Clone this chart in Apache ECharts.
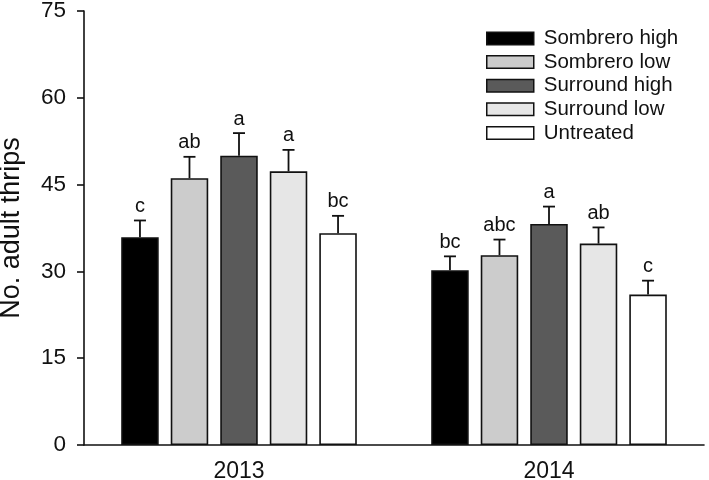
<!DOCTYPE html>
<html>
<head>
<meta charset="utf-8">
<script src="https://cdn.jsdelivr.net/npm/echarts@6/dist/echarts.min.js"></script>
<style>
  html, body { margin: 0; padding: 0; background: #fff; }
  #chart { width: 709px; height: 480px; }
</style>
</head>
<body>
<div id="chart"></div>
<script>
// 数据
const years = ['2013', '2014'];
const treatments = ['Sombrero high', 'Sombrero low', 'Surround high', 'Surround low', 'Untreated'];
const fills = ['#000000', '#cccccc', '#5a5a5a', '#e6e6e6', '#ffffff'];

const sombreroHigh = [35.9, 30.2];
const sombreroLow = [46.1, 32.8];
const surroundHigh = [50.0, 38.2];
const surroundLow = [47.3, 34.8];
const untreated = [36.6, 26.0];

const errSombreroHigh = [2.9, 2.4];
const errSombreroLow = [3.7, 2.7];
const errSurroundHigh = [3.9, 3.0];
const errSurroundLow = [3.7, 2.8];
const errUntreated = [3.0, 2.4];

const lettersSombreroHigh = ['c', 'bc'];
const lettersSombreroLow = ['ab', 'abc'];
const lettersSurroundHigh = ['a', 'a'];
const lettersSurroundLow = ['a', 'ab'];
const lettersUntreated = ['bc', 'c'];

const yTicks = [0, 15, 30, 45, 60, 75];

const means = [sombreroHigh, sombreroLow, surroundHigh, surroundLow, untreated];
const errs = [errSombreroHigh, errSombreroLow, errSurroundHigh, errSurroundLow, errUntreated];
const letters = [lettersSombreroHigh, lettersSombreroLow, lettersSurroundHigh, lettersSurroundLow, lettersUntreated];

const FONT = 'Liberation Sans, Arial, sans-serif';
const CAT_GAP = 0.24;
const BAR_GAP = 0.32;

// 误差线数据: [类别, 处理序号, 均值, 误差, 字母]
const errData = [];
treatments.forEach(function(t, s) {
    years.forEach(function(y, c) {
        errData.push([c, s, means[s][c], errs[s][c], letters[s][c]]);
    });
});

const chart = echarts.init(document.getElementById('chart'));

const barSeries = treatments.map(function(name, s) {
    return {
        name: name,
        type: 'bar',
        data: means[s],
        barCategoryGap: (CAT_GAP * 100) + '%',
        barGap: (BAR_GAP * 100) + '%',
        itemStyle: { color: fills[s], borderColor: '#111', borderWidth: 1.6 },
        emphasis: { disabled: true }
    };
});

function renderErr(params, api) {
    const c = api.value(0);
    const s = api.value(1);
    const m = api.value(2);
    const e = api.value(3);
    const txt = errData[params.dataIndex][4];
    const band = api.size([1, 0])[0];
    const n = treatments.length;
    const bw = band * (1 - CAT_GAP) / (n + (n - 1) * BAR_GAP);
    const total = bw * n + bw * BAR_GAP * (n - 1);
    const center = api.coord([c, 0])[0];
    const x = center - total / 2 + s * bw * (1 + BAR_GAP) + bw / 2;
    const yTop = api.coord([c, m + e])[1];
    const yBase = api.coord([c, m])[1];
    const st = { stroke: '#111', lineWidth: 1.8 };
    return {
        type: 'group',
        children: [
            { type: 'line', shape: { x1: x, y1: yBase, x2: x, y2: yTop }, style: st },
            { type: 'line', shape: { x1: x - 6, y1: yTop, x2: x + 6, y2: yTop }, style: st },
            {
                type: 'text',
                style: {
                    x: x, y: yTop - 4, text: txt,
                    fill: '#111', font: '20px ' + FONT,
                    textAlign: 'center', textVerticalAlign: 'bottom'
                }
            }
        ]
    };
}

chart.setOption({
    animation: false,
    grid: { left: 84, right: 5, top: 11, bottom: 35, outerBoundsMode: 'none', containLabel: false },
    legend: {
        data: treatments,
        orient: 'vertical',
        left: 486,
        top: 28,
        padding: 0,
        itemWidth: 47,
        itemHeight: 12.5,
        itemGap: 2.6,
        icon: 'rect',
        textStyle: { fontFamily: FONT, fontSize: 20.5, color: '#111', padding: [0, 0, 0, 5] },
        itemStyle: { borderColor: '#111', borderWidth: 1.5 }
    },
    xAxis: {
        type: 'category',
        data: years,
        axisLine: { lineStyle: { color: '#111', width: 1.6 } },
        axisTick: { alignWithLabel: true, length: 7, lineStyle: { color: '#111', width: 1.6 } },
        axisLabel: { fontFamily: FONT, fontSize: 23, color: '#111', margin: 15 }
    },
    yAxis: {
        type: 'value',
        min: yTicks[0],
        max: yTicks[yTicks.length - 1],
        interval: 15,
        name: 'No. adult thrips',
        nameLocation: 'middle',
        nameGap: 59,
        nameTextStyle: { fontFamily: FONT, fontSize: 27, color: '#111' },
        splitLine: { show: false },
        axisLine: { show: true, lineStyle: { color: '#111', width: 1.6 } },
        axisTick: { show: true, length: 7, lineStyle: { color: '#111', width: 1.6 } },
        axisLabel: { fontFamily: FONT, fontSize: 22.5, color: '#111', margin: 18 }
    },
    series: barSeries.concat([{
        type: 'custom',
        name: 'err',
        renderItem: renderErr,
        data: errData,
        encode: { x: 0, y: 2 },
        z: 3,
        silent: true
    }])
});
</script>
</body>
</html>
